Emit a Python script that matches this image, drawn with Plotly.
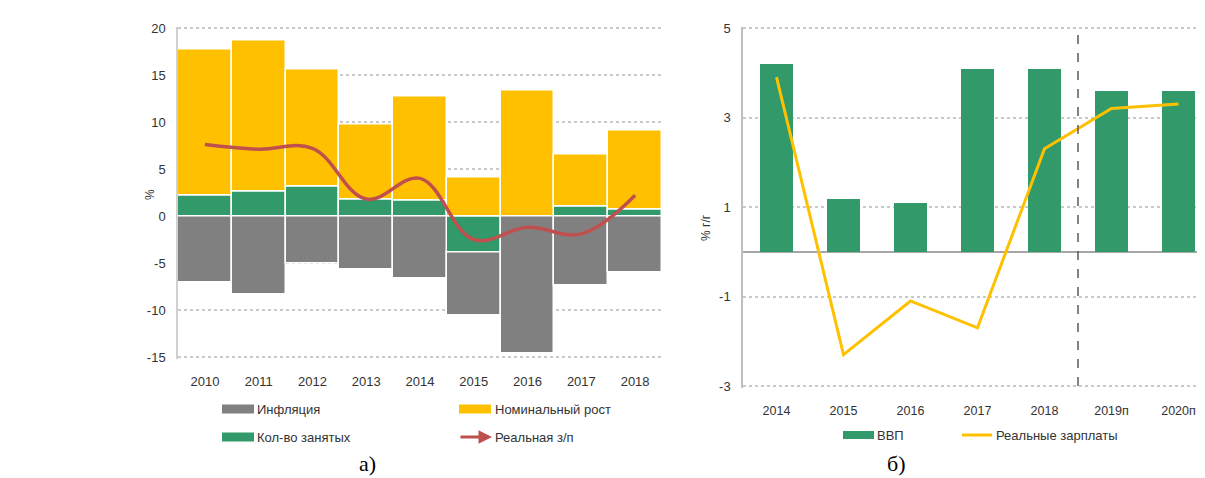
import plotly.graph_objects as go

# ---------------- data: chart a) ----------------
years_a = ["2010", "2011", "2012", "2013", "2014", "2015", "2016", "2017", "2018"]
employment = [2.2, 2.6, 3.1, 1.8, 1.7, -3.9, 0.0, 1.0, 0.7]          # Кол-во занятых
nominal_part = [15.5, 16.1, 12.5, 7.9, 11.0, 4.1, 13.4, 5.5, 8.4]    # Номинальный рост (segment)
inflation = [-7.1, -8.3, -5.0, -5.7, -6.6, -6.7, -14.6, -7.4, -6.0]  # Инфляция
real_wage = [7.6, 7.1, 7.2, 1.8, 4.0, -2.5, -1.2, -1.9, 2.2]          # Реальная з/п
yticks_a = [-15, -10, -5, 0, 5, 10, 15, 20]

# ---------------- data: chart б) ----------------
years_b = ["2014", "2015", "2016", "2017", "2018", "2019п", "2020п"]
gdp = [4.2, 1.2, 1.1, 4.1, 4.1, 3.6, 3.6]                 # ВВП
real_salaries = [3.9, -2.3, -1.1, -1.7, 2.3, 3.2, 3.3]   # Реальные зарплаты
yticks_b = [-3, -1, 1, 3, 5]
forecast_split = 4.5

GRAY = "#808080"
YELLOW = "#FFC000"
GREEN = "#32996A"
RED = "#C0504D"
TXT = "#333333"
FONT = "Liberation Sans, Arial, sans-serif"
SERIF = "Liberation Serif, Times New Roman, serif"

# page offset (browser body margin) and figure size
OFF = 8
W, H = 1205 - OFF, 478 - OFF
def px(x):
    return (x - OFF) / W
def py(y):
    return 1 - (y - OFF) / H

# y axes: pixel position of the first/last tick; pad 1.5 px so edge gridlines show
PAD = 1.5
def y_layout(lo, hi, top_px, bot_px):
    ppu = (bot_px - top_px) / (hi - lo)
    pad_u = PAD / ppu
    return [py(bot_px + PAD), py(top_px - PAD)], [lo - pad_u, hi + pad_u]

dom_a, rng_a = y_layout(min(yticks_a), max(yticks_a), 28, 357)
dom_b, rng_b = y_layout(min(yticks_b), max(yticks_b), 28, 386)

fig = go.Figure()

# chart a) bars
fig.add_trace(go.Bar(x=years_a, y=employment, marker=dict(color=GREEN, line=dict(color="white", width=1.5)),
                     xaxis="x", yaxis="y", name="Кол-во занятых"))
fig.add_trace(go.Bar(x=years_a, y=nominal_part, marker=dict(color=YELLOW, line=dict(color="white", width=1.5)),
                     xaxis="x", yaxis="y", name="Номинальный рост"))
fig.add_trace(go.Bar(x=years_a, y=inflation, marker=dict(color=GRAY, line=dict(color="white", width=1.5)),
                     xaxis="x", yaxis="y", name="Инфляция"))
fig.add_trace(go.Scatter(x=years_a, y=real_wage, mode="lines",
                         line=dict(color=RED, width=3.5, shape="spline", smoothing=1.1),
                         xaxis="x", yaxis="y", name="Реальная з/п"))

# chart б)
fig.add_trace(go.Bar(x=years_b, y=gdp, width=0.5, marker=dict(color=GREEN, line=dict(width=0)),
                     xaxis="x2", yaxis="y2", name="ВВП"))
fig.add_trace(go.Scatter(x=years_b, y=real_salaries, mode="lines",
                         line=dict(color=YELLOW, width=3),
                         xaxis="x2", yaxis="y2", name="Реальные зарплаты"))

tickfont = dict(family=FONT, size=13, color=TXT)
tickfont_b = dict(family=FONT, size=12.5, color=TXT)

# right chart: category pitch chosen so the plot runs off the right edge like the reference
b_left, b_pitch = 743, 67.0
b_range_end = -0.5 + (1205 - b_left) / b_pitch

fig.update_layout(
    width=W, height=H, autosize=False,
    margin=dict(l=0, r=0, t=0, b=0, autoexpand=False),
    paper_bgcolor="white", plot_bgcolor="white",
    barmode="relative", bargap=0,
    showlegend=False,
    xaxis=dict(domain=[px(178), px(662)], anchor="y", type="category", range=[-0.5, 8.5],
               showgrid=False, zeroline=False, showline=False,
               ticks="outside", ticklen=11, tickcolor="rgba(0,0,0,0)", tickfont=tickfont),
    yaxis=dict(domain=dom_a, anchor="x", range=rng_a,
               tickvals=yticks_a, ticktext=[str(v) for v in yticks_a],
               showgrid=True, gridcolor="#c9c9c9", griddash="dot", gridwidth=1.5,
               zeroline=True, zerolinecolor="#d3d3d3", zerolinewidth=2,
               showline=True, linecolor="#d0d0d0", linewidth=1.5,
               ticks="outside", ticklen=8, tickcolor="rgba(0,0,0,0)", tickfont=tickfont),
    xaxis2=dict(domain=[px(b_left), 1.0], anchor="y2", type="category", range=[-0.5, b_range_end],
                showgrid=False, zeroline=False, showline=False,
                ticks="outside", ticklen=11, tickcolor="rgba(0,0,0,0)", tickfont=tickfont_b),
    yaxis2=dict(domain=dom_b, anchor="x2", range=rng_b,
                tickvals=yticks_b, ticktext=[str(v) for v in yticks_b],
                showgrid=True, gridcolor="#c9c9c9", griddash="dot", gridwidth=1.5,
                zeroline=True, zerolinecolor="#a6a6a6", zerolinewidth=1.5,
                showline=True, linecolor="#bfbfbf", linewidth=1.5,
                ticks="outside", ticklen=8, tickcolor="rgba(0,0,0,0)", tickfont=tickfont),
)

shapes = []
# forecast divider on chart б)
shapes.append(dict(type="line", xref="x2", yref="y2", x0=forecast_split, x1=forecast_split,
                   y0=min(yticks_b), y1=max(yticks_b), line=dict(color="#5a5a5a", width=1.5, dash="dash")))

# manual legends
def rect(x0, x1, yc, h, color):
    shapes.append(dict(type="rect", xref="paper", yref="paper",
                       x0=px(x0), x1=px(x1), y0=py(yc + h / 2), y1=py(yc - h / 2),
                       fillcolor=color, line=dict(width=0)))

rect(222, 254, 409, 9, GRAY)
rect(459, 491, 409, 9, YELLOW)
rect(222, 254, 437, 9, GREEN)
rect(843, 874, 435, 8, GREEN)
shapes.append(dict(type="line", xref="paper", yref="paper", x0=px(962), x1=px(992),
                   y0=py(435), y1=py(435), line=dict(color=YELLOW, width=3)))
fig.update_layout(shapes=shapes)

ann = []
def label(x, y, text, size=13, family=FONT, color=TXT, xanchor="left"):
    ann.append(dict(xref="paper", yref="paper", x=px(x), y=py(y), text=text, showarrow=False,
                    xanchor=xanchor, yanchor="middle", font=dict(family=family, size=size, color=color)))

label(255, 409, "Инфляция")
label(493, 409, "Номинальный рост")
label(255, 437, "Кол-во занятых")
label(493, 437, "Реальная з/п")
label(875, 435, "ВВП")
label(994, 435, "Реальные зарплаты")
label(367, 463, "а)", size=22, family=SERIF, color="black", xanchor="center")
label(896, 463, "б)", size=22, family=SERIF, color="black", xanchor="center")

# axis titles
ann.append(dict(xref="paper", yref="paper", x=px(141), y=py(195), text="%", showarrow=False, textangle=-90,
                font=dict(family=FONT, size=12, color=TXT)))
ann.append(dict(xref="paper", yref="paper", x=px(706), y=py(228), text="% г/г", showarrow=False, textangle=-90,
                font=dict(family=FONT, size=12, color=TXT)))

# legend arrow for Реальная з/п
ann.append(dict(xref="paper", yref="paper", x=px(492), y=py(437), ax=-33, ay=0,
                text="", showarrow=True,
                arrowhead=2, arrowsize=0.9, arrowwidth=3, arrowcolor=RED))
# arrow head at end of real wage line
ann.append(dict(xref="x", yref="y", x=years_a[-1], y=real_wage[-1], ax=-16, ay=12, text="",
                showarrow=True, arrowhead=2, arrowsize=0.9, arrowwidth=3.5, arrowcolor=RED))

fig.update_layout(annotations=ann)

fig.write_html("out.html")
